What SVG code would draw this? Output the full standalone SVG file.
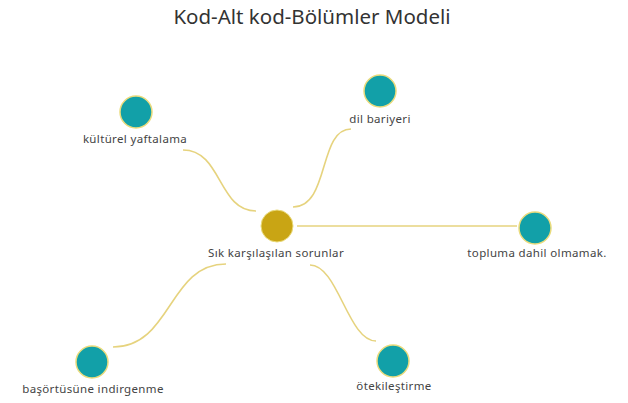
<svg xmlns="http://www.w3.org/2000/svg" width="628" height="403" viewBox="0 0 628 403">
<style>
.bg{fill:#ffffff}
.title{font-family:"Noto Sans","Open Sans",sans-serif;font-size:20.5px;fill:#333333;text-anchor:middle}
.lbl{font-family:"Noto Sans","Open Sans",sans-serif;font-size:11.5px;letter-spacing:0.35px;fill:#444444;text-anchor:middle}
.leaf{fill:#12A0A8;stroke:#EADB7C;stroke-width:1.5}
.hub{fill:#C9A514;stroke:#EADB7C;stroke-width:1}
.edge{fill:none;stroke:#E6D37E;stroke-width:1.6}
</style>
<rect class="bg" x="0" y="0" width="628" height="403"/>
<text class="title" x="312" y="24">Kod-Alt kod-Bölümler Modeli</text>
<g id="connectors">
<path class="edge" d="M183,150 C222,150 218,211 256,211"/>
<path class="edge" d="M351,129 C318,129 330,207 293,207"/>
<path class="edge" d="M297,226 L517,226"/>
<path class="edge" d="M113,347 C172,347 168,264 226,264"/>
<path class="edge" d="M310,265 C338,265 348,341 376,341"/>
</g>
<g id="hub">
<circle class="hub" cx="277" cy="226" r="16"/>
<text class="lbl" x="276" y="257">Sık karşılaşılan sorunlar</text>
</g>
<g id="node-kulturel">
<circle class="leaf" cx="136" cy="112" r="16"/>
<text class="lbl" x="135" y="143">kültürel yaftalama</text>
</g>
<g id="node-dil">
<circle class="leaf" cx="380" cy="91" r="16"/>
<text class="lbl" x="380" y="123">dil bariyeri</text>
</g>
<g id="node-topluma">
<circle class="leaf" cx="535" cy="228" r="16"/>
<text class="lbl" x="537" y="257">topluma dahil olmamak.</text>
</g>
<g id="node-basortu">
<circle class="leaf" cx="92" cy="362" r="16"/>
<text class="lbl" x="93" y="393">başörtüsüne indirgenme</text>
</g>
<g id="node-oteki">
<circle class="leaf" cx="393" cy="361" r="16"/>
<text class="lbl" x="394" y="390">ötekileştirme</text>
</g>
</svg>
